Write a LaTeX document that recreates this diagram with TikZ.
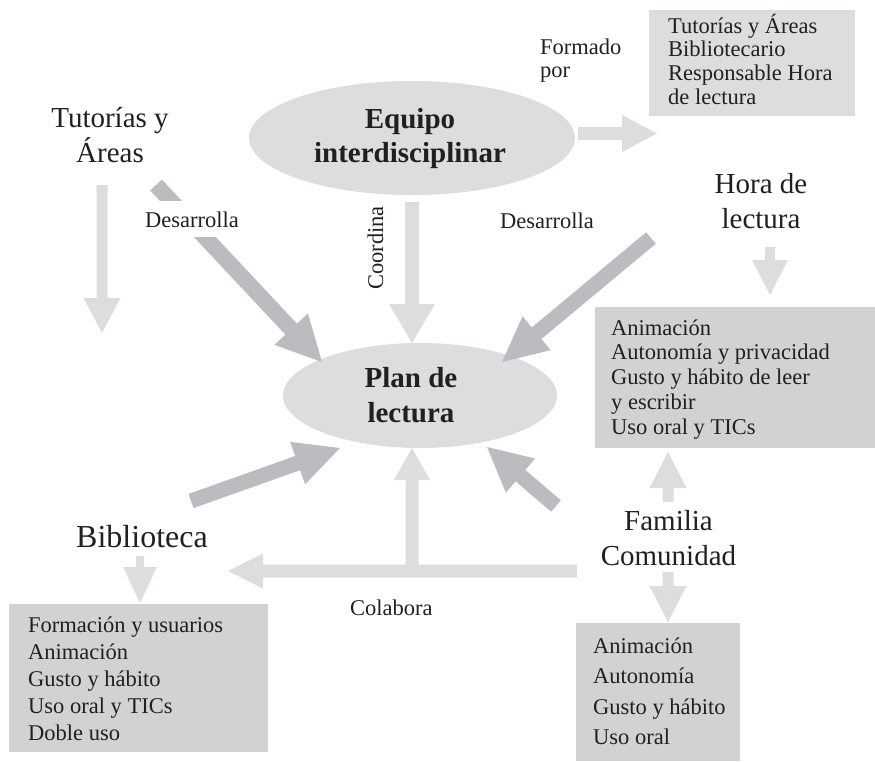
\documentclass[tikz,border=0pt]{standalone}
\usepackage{fontspec}
\setmainfont{Liberation Serif}
\usetikzlibrary{shapes.geometric,calc}
\definecolor{lg}{HTML}{DCDDDF}
\definecolor{dg}{HTML}{BBBCBF}
\definecolor{bx}{HTML}{D1D2D4}
\definecolor{ink}{HTML}{231F20}
\newcommand\clines[2]{\vtop{\baselineskip=#1\lineskiplimit=-100pt\lineskip=0pt\halign{\hfil##\hfil\cr#2\crcr}}}
\newcommand\llines[2]{\vtop{\baselineskip=#1\lineskiplimit=-100pt\lineskip=0pt\halign{##\hfil\cr#2\crcr}}}
% block arrow: colour, from, to, shaft width, head width, head length
\newcommand\barrow[6]{%
  \path let \p1=(#2), \p2=(#3) in \pgfextra{%
    \pgfmathsetmacro\baAng{atan2(\y2-\y1,\x2-\x1)}%
    \pgfmathsetmacro\baLen{veclen(\x2-\x1,\y2-\y1)}%
    \pgfmathsetmacro\baBase{\baLen-#6}%
    \global\let\baAngG\baAng \global\let\baLenG\baLen \global\let\baBaseG\baBase};
  \fill[#1, shift={(#2)}, rotate=\baAngG] (0,-#4/2) -- (\baBaseG,-#4/2) -- (\baBaseG,-#5/2) -- (\baLenG,0) -- (\baBaseG,#5/2) -- (\baBaseG,#4/2) -- (0,#4/2) -- cycle;}
\tikzset{
  lbl/.style={inner sep=0pt, text=ink},
  big/.style={lbl, font=\fontsize{29}{35}\selectfont},
  small/.style={lbl, font=\fontsize{22.5}{27}\selectfont},
  boldtxt/.style={lbl, font=\fontsize{29}{34}\selectfont\bfseries},
  oval/.style={ellipse, fill=lg, inner sep=0pt},
  panel/.style={rectangle, inner sep=0pt, anchor=north west},
}
\begin{document}
\begin{tikzpicture}[x=1pt,y=-1pt]
\useasboundingbox (0,0) rectangle (875,761);
% shapes
\node[oval, minimum width=326pt, minimum height=114pt] (equipo) at (412,138) {};
\node[oval, minimum width=274pt, minimum height=105pt] (plan) at (420,395.5) {};
\node[panel, fill=lg, minimum width=206pt, minimum height=106pt] (formbox) at (649,10) {};
\node[panel, fill=bx, minimum width=280pt, minimum height=141pt] (horabox) at (595,307) {};
\node[panel, fill=bx, minimum width=259pt, minimum height=148pt] (bibbox) at (9,604) {};
\node[panel, fill=bx, minimum width=164pt, minimum height=138pt] (fambox) at (576,623) {};
% arrow end points
\coordinate (tut-s) at (102,185);   \coordinate (tut-t) at (102,333);
\coordinate (tutp-s) at (156,185);  \coordinate (tutp-t) at (322,362);
\coordinate (eq-s) at (412,202);    \coordinate (eq-t) at (412,343);
\coordinate (eqf-s) at (578,133.5); \coordinate (eqf-t) at (657,133.5);
\coordinate (hp-s) at (651,238);    \coordinate (hp-t) at (502,362);
\coordinate (hb-s) at (770,247);    \coordinate (hb-t) at (770,295);
\coordinate (bp-s) at (191,501);    \coordinate (bp-t) at (340,448);
\coordinate (fp-s) at (556,506);    \coordinate (fp-t) at (487,447);
\coordinate (col-s) at (577,571);   \coordinate (col-t) at (228,571);
\coordinate (colp-s) at (412,571);  \coordinate (colp-t) at (412,448);
\coordinate (fu-s) at (668,502);    \coordinate (fu-t) at (668,452);
\coordinate (fd-s) at (668,572);    \coordinate (fd-t) at (668,622);
\coordinate (bd-s) at (140,556);    \coordinate (bd-t) at (140,603);
% arrows
\barrow{lg}{tut-s}{tut-t}{11}{37}{35}
\barrow{dg}{tutp-s}{tutp-t}{16}{46}{45}
\barrow{lg}{eq-s}{eq-t}{14}{46}{39}
\barrow{lg}{eqf-s}{eqf-t}{13}{37}{35}
\barrow{dg}{hp-s}{hp-t}{15}{44}{45}
\barrow{lg}{hb-s}{hb-t}{10}{36}{35}
\barrow{dg}{bp-s}{bp-t}{15}{45}{45}
\barrow{dg}{fp-s}{fp-t}{15}{45}{44}
\barrow{lg}{col-s}{col-t}{13}{35}{35}
\barrow{lg}{colp-s}{colp-t}{13}{36}{32}
\barrow{lg}{fu-s}{fu-t}{11}{37}{36}
\barrow{lg}{fd-s}{fd-t}{11}{37}{36}
\barrow{lg}{bd-s}{bd-t}{8}{34}{36}
% main texts
\node[boldtxt, anchor=base] (equipo-t) at (410,128) {\clines{34pt}{Equipo\cr interdisciplinar}};
\node[boldtxt, anchor=base] (plan-t) at (411,387) {\clines{35pt}{Plan de\cr lectura}};
\node[big, anchor=base] (tutorias) at (110,127) {\clines{35pt}{Tutorías y\cr Áreas}};
\node[big, anchor=base] (hora) at (761,193) {\clines{35pt}{Hora de\cr lectura}};
\node[big, font=\fontsize{32}{38}\selectfont, anchor=base] (biblio) at (142,547) {Biblioteca};
\node[big, anchor=base] (familia) at (668.5,530) {\clines{35pt}{Familia\cr Comunidad}};
% connector labels
\node[small, anchor=base west, fill=white, inner xsep=4pt, inner ysep=10pt] (des1) at (141,227) {Desarrolla};
\node[small, anchor=base west] (des2) at (500,228) {Desarrolla};
\node[small, anchor=base, rotate=90] (coord) at (383,248) {Coordina};
\node[small, anchor=base west] (colab) at (350,615) {Colabora};
\node[small, anchor=base west] (formado) at (540,54) {\llines{23pt}{Formado\cr por}};
% box texts
\node[small, anchor=base west] (formbox-t) at (668,33) {\llines{23.7pt}{Tutorías y Áreas\cr Bibliotecario\cr Responsable Hora\cr de lectura}};
\node[small, anchor=base west] (horabox-t) at (611,335) {\llines{24.8pt}{Animación\cr Autonomía y privacidad\cr Gusto y hábito de leer\cr y escribir\cr Uso oral y TICs}};
\node[small, anchor=base west] (bibbox-t) at (28,632) {\llines{27pt}{Formación y usuarios\cr Animación\cr Gusto y hábito\cr Uso oral y TICs\cr Doble uso}};
\node[small, anchor=base west] (fambox-t) at (593,653) {\llines{30.5pt}{Animación\cr Autonomía\cr Gusto y hábito\cr Uso oral}};
\end{tikzpicture}
\end{document}
